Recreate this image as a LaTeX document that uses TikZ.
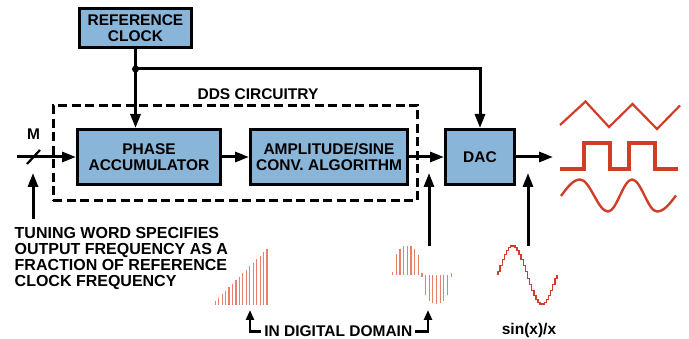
\documentclass[tikz,border=0pt]{standalone}
\usepackage{fontspec}
\setmainfont{Liberation Sans}
\usetikzlibrary{arrows.meta}
\definecolor{boxblue}{RGB}{137,181,217}
\definecolor{wavered}{RGB}{206,62,40}
\definecolor{barred}{RGB}{232,128,108}
\begin{document}
\begin{tikzpicture}[x=1pt,y=-1pt,
  blk/.style={draw=black, line width=3.3pt, fill=boxblue, inner sep=0pt, align=center,
    font=\fontsize{15.5}{15.4}\selectfont\bfseries},
  conn/.style={line width=3pt, -{Triangle[length=14pt,width=10pt]}},
  sconn/.style={line width=2.6pt, -{Triangle[length=10pt,width=8pt]}},
  lbl/.style={font=\fontsize{15.5}{15.4}\selectfont\bfseries, inner sep=0pt},
  ddsbox/.style={draw=black, line width=2.8pt, dash pattern=on 9pt off 4.5pt, inner sep=0pt},
  wave/.style={draw=wavered, line width=2.2pt, line join=miter},
  smp/.style={draw=barred, line width=1.2pt}]
\useasboundingbox (0,0) rectangle (689,339);

% blocks
\node[blk, minimum width=111.7pt, minimum height=38.7pt] (ref) at (135.5,28) {REFERENCE\\CLOCK};
\node[blk, minimum width=142.7pt, minimum height=54.7pt] (pa) at (149,157) {PHASE\\ACCUMULATOR};
\node[blk, minimum width=156.7pt, minimum height=54.7pt] (amp) at (329,157) {AMPLITUDE/SINE\\CONV. ALGORITHM};
\node[blk, minimum width=68.7pt, minimum height=54.7pt] (dac) at (480,157) {DAC};

% dashed DDS circuitry box
\node[ddsbox, minimum width=364.2pt, minimum height=95.2pt] (dds) at (235.5,153) {};
\node[lbl] (ddsl) at (258,94) {DDS CIRCUITRY};

% clock distribution
\coordinate (j) at (135.5,69);
\draw[conn] (ref.south) -- (ref.south |- pa.north);
\fill (j) circle (3.5pt);
\draw[conn] (j) -| (dac.north);

% signal path
\coordinate (min) at (17,157);
\coordinate (out) at (553,157);
\draw[conn] (min) -- (pa.west);
\draw[line width=2.2pt] (27,164) -- (40,150);
\node[lbl] (m) at (33.5,134) {M};
\draw[conn] (pa) -- (amp);
\draw[conn] (amp) -- (dac);
\draw[conn] (dac) -- (out);

% tuning word
\coordinate (tw) at (33,219);
\coordinate (twt) at (33,173);
\draw[conn] (tw) -- (twt);
\node[lbl, align=left, anchor=north west, font=\fontsize{16}{15.8}\selectfont\bfseries] (tuning) at (14.5,227.5)
  {TUNING WORD SPECIFIES\\OUTPUT FREQUENCY AS A\\FRACTION OF REFERENCE\\CLOCK FREQUENCY};

% arrows from sample plots
\coordinate (g1) at (429,246);
\coordinate (g1t) at (429,173);
\coordinate (g2) at (528,246);
\coordinate (g2t) at (528,173);
\draw[conn] (g1) -- (g1t);
\draw[conn] (g2) -- (g2t);

% bottom labels
\node[lbl] (idd) at (338.3,331.5) {IN DIGITAL DOMAIN};
\coordinate (la) at (250,310);
\coordinate (ra) at (428,310);
\draw[sconn] ([xshift=-3pt]idd.west) -| (la);
\draw[sconn] ([xshift=3pt]idd.east) -| (ra);
\node[lbl, anchor=base] (sinc) at (529,335) {sin(x)/x};

% ramp samples
\foreach \i in {0,...,15}
  \draw[smp] ({215.3+\i*3.447},305) -- ++(0,{-3.5*(\i+1)});

% digital sine samples
\foreach \v [count=\i from 0] in {0.09,0.7,0.9,1,1,1,0.9,0.68,0.08,-0.68,-0.875,-0.97,-0.99,-0.97,-0.875,-0.68,0.06}
  \draw[smp] ({392.7+\i*3.65},275) -- ++(0,{-29.3*\v});
\draw[smp] (421.9,275) -- ++(0,2.5);
\draw[smp] (451.1,275) -- ++(0,2.5);

% staircase DAC output
\draw[draw=wavered, line width=1.4pt] (498,275)
  \foreach \i in {0,...,27} {
    -- ({498+\i*59/28},{275-29*sin(360*(\i+0.5)/28)})
    -- ({498+(\i+1)*59/28},{275-29*sin(360*(\i+0.5)/28)}) }
  -- (557,275);

% output waveforms
\draw[wave] (560,125) -- (585.5,101.5) -- (609,127) -- (632.5,104) -- (657,129) -- (680,105.5);
\draw[wave, line width=3.2pt] (560,169) -- (584,169) -- (584,143) -- (610,143) -- (610,169)
  -- (629,169) -- (629,143) -- (655,143) -- (655,169) -- (678,169);
\draw[wave, line width=2.4pt] (561,196) sin (580,179.5) cos (594,195.5) sin (608,211.5) cos (620,195.5)
  sin (632,179.5) cos (644.5,195.5) sin (657,211.5) cos (676,195.5);
\end{tikzpicture}
\end{document}
